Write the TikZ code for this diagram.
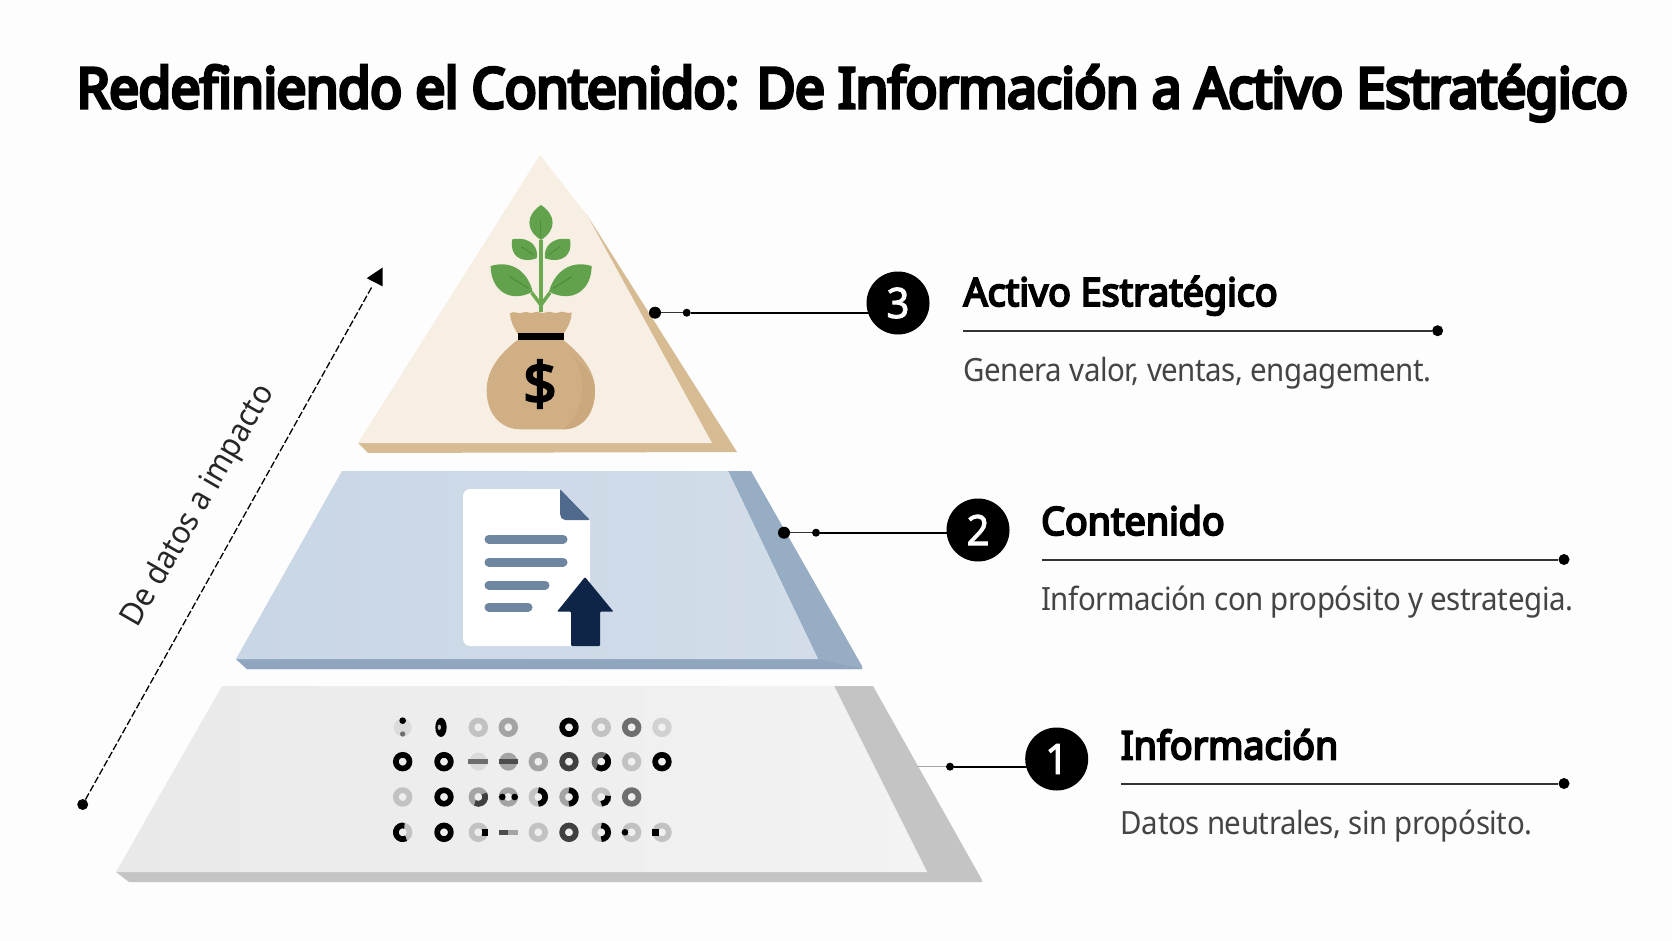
\documentclass[tikz,border=0pt]{standalone}
\usepackage{fontspec}
\usetikzlibrary{calc}
\setmainfont{Noto Sans}
\newfontfamily\titlef{Noto Sans}[FakeStretch=0.95,LetterSpace=-1.2,FakeBold=6]
\newfontfamily\headf{Noto Sans}[FakeStretch=0.965,FakeBold=5]
\newfontfamily\subf{Noto Sans}[FakeStretch=0.92,LetterSpace=-1.3]
\newfontfamily\sidef{Noto Sans}[FakeStretch=0.94]
\newfontfamily\numf{Noto Sans}[FakeStretch=0.95,FakeBold=2]
\newfontfamily\dollarf{Noto Sans}[FakeBold=3.5]
\pgfdeclarelayer{top}
\pgfsetlayers{main,top}
\definecolor{bgc}{HTML}{FDFDFD}
\definecolor{tfront}{HTML}{F7EFE3}
\definecolor{tside}{HTML}{D6BB93}
\definecolor{mfrontl}{HTML}{C9D6E5}
\definecolor{mfrontr}{HTML}{D2DDE9}
\definecolor{mside}{HTML}{97ADC4}
\definecolor{mstrip}{HTML}{8FA6BE}
\definecolor{bfrontl}{HTML}{E9E9E9}
\definecolor{bfrontr}{HTML}{F3F3F3}
\definecolor{bside}{HTML}{C4C4C4}
\definecolor{bagc}{HTML}{D1AF84}
\definecolor{bagd}{HTML}{CCA97C}
\definecolor{leafc}{HTML}{62A24C}
\definecolor{leafd}{HTML}{4F8C40}
\definecolor{stemc}{HTML}{6BAA50}
\definecolor{foldc}{HTML}{4F6A8C}
\definecolor{linec}{HTML}{6F86A0}
\definecolor{arrc}{HTML}{0F2547}
\definecolor{subc}{HTML}{444444}
\definecolor{rl}{HTML}{C2C2C2}
\definecolor{rm}{HTML}{A4A4A4}
\definecolor{rd}{HTML}{6E6E6E}
\newcommand{\ringat}[3]{\draw[line width=5.7pt,#3] (#1,#2) circle (20.5);}
\newcommand{\arcat}[4]{\draw[line width=5.7pt,black] (#1,#2) ++(#3:20.5) arc (#3:#4:20.5);}
\tikzset{
  numc/.style={circle,fill=black,text=white,minimum size=63pt,inner sep=0pt,font=\fontsize{42}{42}\selectfont\numf},
  headt/.style={anchor=base west,inner sep=0pt,text=black,font=\fontsize{39}{39}\selectfont\headf},
  subt/.style={anchor=base west,inner sep=0pt,text=subc,font=\fontsize{32}{32}\selectfont\subf},
  enddot/.style={circle,fill=black,minimum size=11pt,inner sep=0pt},
  startdot/.style={circle,fill=black,minimum size=12pt,inner sep=0pt},
  smalldot/.style={circle,fill=black,minimum size=8pt,inner sep=0pt},
  rulel/.style={line width=2pt,draw=black!80},
  thinl/.style={line width=1.2pt,draw=black!80},
  thickl/.style={line width=2.2pt,draw=black},
  docline/.style={line width=9pt,line cap=round,draw=linec},
}
\begin{document}
\begin{tikzpicture}[x=1pt,y=-1pt]
\useasboundingbox (0,0) rectangle (1672,941);
\fill[bgc] (0,0) rectangle (1672,941);
% title
\node[anchor=base west,inner sep=0pt,font=\fontsize{56}{56}\selectfont\titlef] (title) at (76.5,108) {Redefiniendo el Contenido: De Información a Activo Estratégico};
% top tier
\fill[tside] (587,215) -- (737,452) -- (368,453) -- (358,443) -- cycle;
\fill[tfront] (540,155) -- (587,215) -- (712,443) -- (358,443) -- cycle;
% plant
\begin{scope}[shift={(340,140)},x=0.3333pt,y=-0.3333pt]
\fill[stemc] (597,300) rectangle (609,515);
\draw[stemc,line width=3.5pt] (603,495) -- (575,458);
\draw[stemc,line width=3.5pt] (603,495) -- (630,458);
\fill[leafc] (603,300) .. controls (555,270) and (558,225) .. (603,195) .. controls (648,225) and (651,270) .. (603,300) -- cycle;
\fill[leafc] (517,298) .. controls (575,288) and (597,325) .. (590,355) .. controls (540,372) and (508,345) .. (517,298) -- cycle;
\fill[leafc] (690,298) .. controls (632,288) and (610,325) .. (615,355) .. controls (667,372) and (699,345) .. (690,298) -- cycle;
\fill[leafc] (452,378) .. controls (520,358) and (565,400) .. (578,455) .. controls (510,492) and (452,450) .. (452,378) -- cycle;
\fill[leafc] (755,378) .. controls (687,358) and (642,400) .. (627,455) .. controls (697,492) and (755,450) .. (755,378) -- cycle;
\draw[leafd,line width=1pt] (603,290) -- (603,240);
\draw[leafd,line width=1pt] (580,345) -- (545,320);
\draw[leafd,line width=1pt] (625,345) -- (660,320);
\draw[leafd,line width=1.2pt] (565,445) -- (510,410);
\draw[leafd,line width=1.2pt] (640,445) -- (695,410);
% bag
\fill[bagc] (533,582) .. controls (520,560) and (510,540) .. (510,520)
  .. controls (525,510) and (535,525) .. (548,518) .. controls (560,510) and (570,525) .. (583,517)
  .. controls (595,510) and (605,525) .. (618,517) .. controls (630,510) and (645,525) .. (658,517)
  .. controls (670,510) and (685,525) .. (695,517) .. controls (695,540) and (685,560) .. (670,582) -- cycle;
\fill[bagc] (533,600) .. controls (480,640) and (440,690) .. (440,750)
  .. controls (440,830) and (490,868) .. (540,868) -- (670,868)
  .. controls (720,868) and (765,830) .. (765,750)
  .. controls (765,690) and (720,640) .. (670,600) -- cycle;
\fill[bagd] (700,650) .. controls (735,700) and (745,800) .. (670,868) .. controls (720,868) and (765,830) .. (765,750) .. controls (765,715) and (735,675) .. (700,650) -- cycle;
\fill[black] (533,580) rectangle (671,599);
\node[inner sep=0pt,text=black,font=\fontsize{59}{59}\selectfont\dollarf] (dollar) at (600,732) {\$};
\end{scope}
% middle tier
\fill[mside] (728,471) -- (751,471) -- (862,666) -- (862,669) -- (247,669) -- (236,659) -- (818,659) -- cycle;
\fill[mstrip] (236,659) -- (247,669) -- (862,669) -- (818,659) -- cycle;
\shade[left color=mfrontl,right color=mfrontr] (342,471) -- (728,471) -- (818,659) -- (236,659) -- cycle;
% document
\fill[white,rounded corners=7pt] (463,489) -- (560,489) -- (590,520) -- (590,646) -- (463,646) -- cycle;
\fill[white] (555,489) -- (560,489) -- (590,520) -- (590,530) -- (555,530) -- cycle;
\fill[foldc,rounded corners=1pt] (560,489) -- (590,520) -- (566,520) .. controls (562,520) and (560,517) .. (560,513) -- cycle;
\draw[docline] (489,539) -- (563,539);
\draw[docline] (489,562) -- (563,562);
\draw[docline] (489,585) -- (545,585);
\draw[docline] (489,607) -- (528,607);
\fill[arrc,rounded corners=1pt] (585,577) -- (613.5,611.7) -- (600,611.7) -- (600,646) -- (571,646) -- (571,611.7) -- (557,611.7) -- cycle;
% bottom tier
\fill[bside] (834,686) -- (873,686) -- (982,880) -- (982,882) -- (129,882) -- (116,872) -- (927,872) -- cycle;
\shade[left color=bfrontl,right color=bfrontr] (222,686) -- (834,686) -- (927,872) -- (116,872) -- cycle;
% data dots
\begin{scope}[shift={(380,700)},x=0.3333pt,y=-0.3333pt]
% row 1
\fill[black!14] (68,82) circle (27);
\fill[black] (68,62) circle (10);
\fill[rd] (68,102) circle (8);
\fill[black] (183,82) ellipse (17 and 29);
\fill[rl] (178,82) ellipse (5 and 8);
\ringat{295}{82}{rl}
\ringat{385}{82}{rm}
\ringat{567}{82}{black}
\ringat{664}{82}{rl}
\ringat{755}{82}{rd}
\ringat{846}{82}{black!18}
% row 2
\ringat{68}{185}{black}
\ringat{192}{185}{black}
\fill[black!14] (295,185) circle (27);
\fill[rd] (265,176) rectangle (323,192);
\fill[rm] (385,185) circle (27);
\fill[black!70] (358,176) rectangle (413,192);
\ringat{475}{185}{rm}
\ringat{567}{185}{black!75}
\ringat{664}{185}{rd}
\arcat{664}{185}{-60}{130}
\ringat{755}{185}{rl}
\ringat{846}{185}{black}
% row 3
\ringat{68}{291}{rl}
\ringat{192}{291}{black}
\ringat{295}{291}{rm}
\draw[line width=5.7pt,black!75] (295,291) ++(-30:20.5) arc (-30:120:20.5);
\ringat{385}{291}{rm}
\fill[black] (367,291) circle (10);
\fill[black] (404,291) circle (10);
\ringat{475}{291}{rl}
\arcat{475}{291}{-90}{90}
\ringat{567}{291}{rm}
\arcat{567}{291}{-90}{90}
\ringat{664}{291}{rl}
\arcat{664}{291}{-10}{90}
\ringat{755}{291}{rd}
% row 4
\ringat{68}{397}{rl}
\arcat{68}{397}{60}{285}
\ringat{192}{397}{black}
\ringat{295}{397}{rl}
\fill[black] (305,387) rectangle (324,407);
\fill[black!70] (357,390) rectangle (413,406);
\fill[rm] (385,390) rectangle (413,406);
\ringat{475}{397}{rl}
\ringat{567}{397}{black!75}
\ringat{664}{397}{rl}
\arcat{664}{397}{-90}{90}
\ringat{755}{397}{rl}
\fill[black] (735,397) circle (10);
\ringat{846}{397}{rl}
\fill[black] (817,387) rectangle (836,407);
\end{scope}
% nodes on the top layer
\begin{pgfonlayer}{top}
\node[numc] (n3) at (898,303) {3};
\node[numc] (n2) at (978,530) {2};
\node[numc] (n1) at (1056.7,759) {1};
\node[startdot] (d3) at (655,312.7) {};
\node[smalldot] (s3) at (686.7,312.7) {};
\node[startdot] (d2) at (784,532.7) {};
\node[smalldot] (s2) at (816,532.7) {};
\coordinate (d1) at (918,766.7);
\node[smalldot] (s1) at (950,766.7) {};
\node[enddot] (e3) at (1437.6,330.7) {};
\node[enddot] (e2) at (1564,559.5) {};
\node[enddot] (e1) at (1564,783.5) {};
\coordinate (l3) at (963.4,330.7);
\coordinate (l2) at (1041.7,559.5);
\coordinate (l1) at (1121,783.5);
\node[enddot,minimum size=11pt] (as) at (82.7,804.5) {};
\coordinate (at) at (382.7,267.5);
\end{pgfonlayer}
% connectors
\draw[thinl] (d3) -- (s3);
\draw[thickl] (s3) -- (s3 -| n3);
\draw[thinl] (d2) -- (s2);
\draw[thickl] (s2) -- (s2 -| n2);
\draw[line width=1.2pt,draw=black!35] (d1) -- (s1);
\draw[thickl] (s1) -- (s1 -| n1);
\draw[rulel] (l3) -- (e3);
\draw[rulel] (l2) -- (e2);
\draw[rulel] (l1) -- (e1);
% texts
\node[headt] (h3) at (963.4,306) {Activo Estratégico};
\node[subt] (p3) at (963.4,381.7) {Genera valor, ventas, engagement.};
\node[headt] (h2) at (1041,535) {Contenido};
\node[subt] (p2) at (1041,610) {Información con propósito y estrategia.};
\node[headt] (h1) at (1120.7,759.3) {Información};
\node[subt] (p1) at (1120.7,834) {Datos neutrales, sin propósito.};
% side arrow
\draw[line width=1.3pt,dash pattern=on 7pt off 2.5pt] (as) -- ($(as)!0.965!(at)$);
\fill[black] (at) -- (382.7,286.4) -- (366.7,278.2) -- cycle;
\node[rotate=60,inner sep=0pt,text=black!85,font=\fontsize{32}{32}\selectfont\sidef] (side) at (199,506) {De datos a impacto};
\end{tikzpicture}
\end{document}
